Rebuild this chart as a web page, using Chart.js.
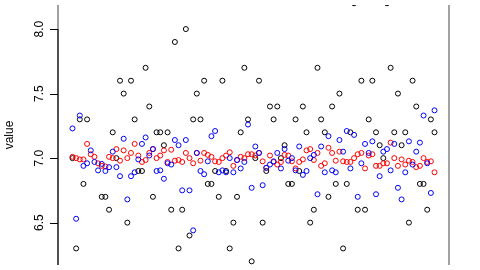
<!DOCTYPE html>
<html>
<head>
<meta charset="utf-8">
<script src="https://cdn.jsdelivr.net/npm/chart.js@4/dist/chart.umd.min.js"></script>
<style>
  html, body { margin: 0; padding: 0; background: #fff; }
  #plot { display: block; }
</style>
</head>
<body>
<canvas id="plot" width="480" height="270"></canvas>
<script>
// index 1..100, three series (black ones outside the view left as null)
var idx = [];
for (var i = 1; i <= 100; i++) idx.push(i);

var blackVals = [
  7.0, 6.3, 7.3, 6.8, 7.3, null, null, null, 6.7, 6.7,
  6.6, 7.2, 7.0, 7.6, 7.5, 6.5, 7.6, 7.3, 6.9, 6.9,
  7.7, 7.4, 6.7, 7.2, 7.2, 7.1, 7.2, 6.6, 7.9, 6.3,
  6.6, 8.0, 6.4, 7.3, 7.5, 7.3, 7.6, 6.8, 6.8, 6.9,
  6.7, 7.6, 6.9, 6.3, 6.5, 6.7, 7.2, 7.7, 7.3, 6.2,
  7.0, 7.6, 6.5, 6.9, 7.4, 7.3, 7.4, 7.0, 7.1, 6.8,
  6.8, 7.3, 6.9, 7.4, 7.2, 6.5, 6.6, 7.7, 7.3, 7.2,
  6.7, 7.4, 6.8, 7.5, 6.3, 6.8, 7.2, 8.2, 6.6, 7.6,
  6.6, 7.3, 7.6, 7.2, 7.1, 7.0, 8.2, 7.7, 7.2, 7.5,
  7.1, 7.2, 6.5, 7.6, 7.4, 6.8, 6.8, 6.6, 7.3, 7.2
];

var redVals = [
  7.01, 7.00, 6.99, 6.99, 7.11, 7.03, 7.01, 6.96, 6.94, 6.935,
  7.01, 7.00, 7.07, 6.98, 7.06, 7.00, 7.04, 7.11, 7.02, 6.97,
  6.985, 7.04, 7.07, 7.00, 7.02, 7.06, 6.97, 7.065, 6.98, 6.985,
  6.97, 7.04, 7.00, 6.96, 7.04, 6.98, 7.04, 7.025, 7.01, 6.975,
  6.97, 7.00, 7.02, 7.045, 6.94, 6.985, 7.01, 7.00, 7.03, 7.03,
  7.02, 7.04, 6.975, 6.925, 7.02, 6.97, 6.95, 6.97, 7.025, 7.02,
  6.975, 6.92, 6.97, 6.99, 7.06, 7.07, 6.985, 7.04, 6.94, 6.96,
  7.08, 7.04, 6.98, 7.05, 6.975, 6.97, 6.97, 7.00, 7.03, 7.04,
  6.92, 7.02, 7.03, 6.94, 6.94, 6.96, 6.96, 7.12, 7.00, 6.94,
  6.99, 6.95, 6.98, 6.97, 6.93, 6.94, 7.00, 6.97, 6.975, 6.89
];

var blueVals = [
  7.23, 6.53, 7.33, 6.94, 6.96, 7.06, 6.97, 6.905, 6.955, 6.90,
  6.93, 7.05, 6.93, 6.86, 7.15, 6.68, 6.86, 6.89, 6.99, 7.11,
  7.16, 7.02, 7.07, 6.90, 6.905, 6.84, 6.96, 6.95, 7.14, 7.10,
  6.75, 7.14, 6.75, 6.44, 7.04, 6.90, 6.875, 6.975, 7.17, 7.21,
  6.89, 6.905, 6.89, 7.00, 6.89, 6.985, 6.92, 6.97, 7.26, 6.77,
  7.09, 7.04, 6.79, 6.925, 6.95, 6.975, 7.04, 6.92, 7.07, 6.98,
  7.00, 6.905, 7.09, 6.87, 6.90, 7.00, 7.025, 6.72, 7.09, 6.89,
  7.17, 6.905, 6.89, 7.14, 7.05, 7.21, 6.92, 7.18, 6.70, 6.96,
  7.11, 7.04, 7.13, 6.72, 6.86, 7.05, 7.07, 6.905, 7.11, 6.77,
  6.68, 6.89, 7.13, 6.95, 7.05, 7.12, 7.33, 6.96, 6.73, 7.37
];

var yTicks = [6.5, 7.0, 7.5, 8.0];
var yTickLabels = ['6.5', '7.0', '7.5', '8.0'];

function pts(vals) {
  return idx.map(function (x, k) { return { x: x, y: vals[k] }; });
}

function circles(vals, col) {
  return {
    data: pts(vals),
    showLine: false,
    pointStyle: 'circle',
    pointRadius: 2.5,
    pointBorderWidth: 1,
    pointBorderColor: col,
    pointBackgroundColor: 'rgba(0,0,0,0)',
    borderColor: col
  };
}

// R style left axis: box, axis line from top tick down, outward ticks, rotated labels
var rAxis = {
  id: 'rAxis',
  afterDraw: function (chart) {
    var ctx = chart.ctx, a = chart.chartArea, y = chart.scales.y;
    ctx.save();
    ctx.lineWidth = 1;
    // plot box
    ctx.strokeStyle = '#444';
    ctx.beginPath();
    ctx.moveTo(a.left, a.top); ctx.lineTo(a.left, a.bottom);
    ctx.moveTo(a.right, a.top); ctx.lineTo(a.right, a.bottom);
    ctx.stroke();
    // axis line + ticks
    ctx.strokeStyle = '#000';
    ctx.beginPath();
    ctx.moveTo(a.left, y.getPixelForValue(yTicks[yTicks.length - 1]));
    ctx.lineTo(a.left, a.bottom);
    ctx.stroke();
    ctx.beginPath();
    yTicks.forEach(function (v) {
      var py = Math.round(y.getPixelForValue(v)) + 0.5;
      ctx.moveTo(a.left - 8, py); ctx.lineTo(a.left, py);
    });
    ctx.stroke();
    ctx.fillStyle = '#000';
    ctx.font = '12px "Liberation Sans", Arial, sans-serif';
    ctx.textAlign = 'center';
    ctx.textBaseline = 'alphabetic';
    yTicks.forEach(function (v, k) {
      ctx.save();
      ctx.translate(a.left - 15, y.getPixelForValue(v));
      ctx.rotate(-Math.PI / 2);
      ctx.fillText(yTickLabels[k], 0, 0);
      ctx.restore();
    });
    ctx.restore();
  }
};

new Chart(document.getElementById('plot'), {
  type: 'scatter',
  data: {
    datasets: [circles(blueVals, '#0000ff'), circles(redVals, '#ff0000'), circles(blackVals, '#000000')]
  },
  options: {
    responsive: false,
    animation: false,
    devicePixelRatio: 1,
    events: [],
    layout: { padding: { left: 0, right: 31, top: 0, bottom: 0 } },
    plugins: { legend: { display: false }, tooltip: { enabled: false } },
    scales: {
      x: { type: 'linear', display: false, min: -2.96, max: 103.96 },
      y: {
        type: 'linear',
        min: 6.1716,
        max: 8.1866,
        afterFit: function (s) { s.width = 58; },
        ticks: { display: false },
        grid: { display: false },
        border: { display: false },
        title: {
          display: true,
          text: 'value',
          color: '#000',
          padding: { top: 2, bottom: 0 },
          font: { family: '"Liberation Sans", Arial, sans-serif', size: 12 }
        }
      }
    }
  },
  plugins: [rAxis]
});
</script>
</body>
</html>
